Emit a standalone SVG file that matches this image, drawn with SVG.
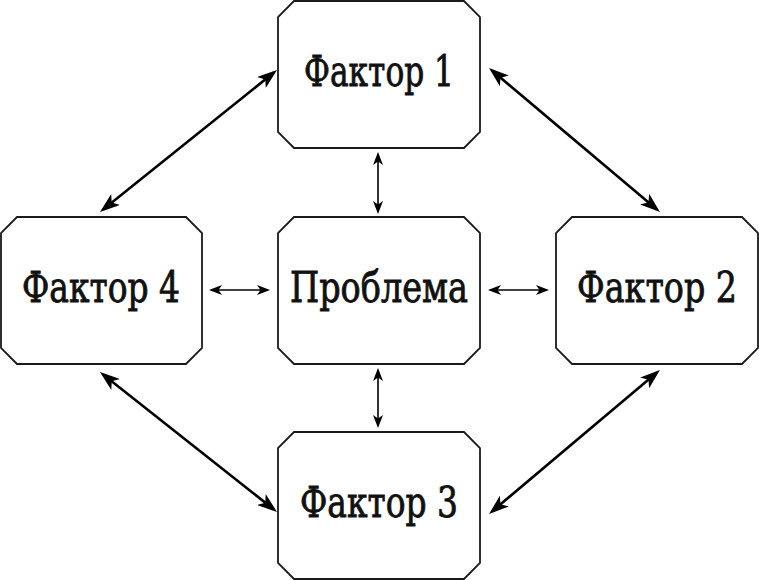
<svg xmlns="http://www.w3.org/2000/svg" width="759" height="580" viewBox="0 0 759 580">
<style>
.box{fill:#fff;stroke:#1a1a1a;stroke-width:1.8}
.lbl{font-family:"DejaVu Serif Condensed","DejaVu Serif",serif;font-size:43px;fill:#111;stroke:#111;stroke-width:0.8;text-anchor:middle}
.big{stroke:#000;stroke-width:2.6;fill:none;marker-start:url(#hb);marker-end:url(#hb)}
.sm{stroke:#000;stroke-width:1.6;fill:none;marker-start:url(#hs);marker-end:url(#hs)}
</style>
<defs>
<marker id="hb" viewBox="0 0 20 14" refX="16" refY="7" markerWidth="20" markerHeight="14" markerUnits="userSpaceOnUse" orient="auto-start-reverse"><path d="M0,0 L20,7 L0,14 L5,7 z" fill="#000"/></marker>
<marker id="hs" viewBox="0 0 13 10" refX="11" refY="5" markerWidth="13" markerHeight="10" markerUnits="userSpaceOnUse" orient="auto-start-reverse"><path d="M0,0 L13,5 L0,10 L3.5,5 z" fill="#000"/></marker>
</defs>
<g id="connectors">
<line class="big" x1="273.9" y1="72.5" x2="103.1" y2="209.5"/>
<line class="big" x1="492.1" y1="70.6" x2="656.9" y2="209.4"/>
<line class="big" x1="103.1" y1="374.5" x2="273.9" y2="509.5"/>
<line class="big" x1="492.1" y1="511.4" x2="656.9" y2="372.6"/>
<line class="sm" x1="378" y1="154" x2="378" y2="212"/>
<line class="sm" x1="378" y1="370" x2="378" y2="426"/>
<line class="sm" x1="211" y1="290" x2="268" y2="290"/>
<line class="sm" x1="490" y1="290" x2="547" y2="290"/>
</g>
<g id="factor1">
<path class="box" d="M294,1 H464 L480,17 V132 L464,148 H294 L278,132 V17 Z"/>
<text class="lbl" x="379" y="86" textLength="150" lengthAdjust="spacingAndGlyphs">Фактор 1</text>
</g>
<g id="factor4">
<path class="box" d="M17,217 H186 L202,233 V348 L186,364 H17 L1,348 V233 Z"/>
<text class="lbl" x="101" y="302" textLength="158" lengthAdjust="spacingAndGlyphs">Фактор 4</text>
</g>
<g id="problem">
<path class="box" d="M294,217 H464 L480,233 V348 L464,364 H294 L278,348 V233 Z"/>
<text class="lbl" x="379" y="302" textLength="178" lengthAdjust="spacingAndGlyphs">Проблема</text>
</g>
<g id="factor2">
<path class="box" d="M572,217 H742 L758,233 V348 L742,364 H572 L556,348 V233 Z"/>
<text class="lbl" x="657" y="302" textLength="160" lengthAdjust="spacingAndGlyphs">Фактор 2</text>
</g>
<g id="factor3">
<path class="box" d="M294,432 H464 L480,448 V563 L464,579 H294 L278,563 V448 Z"/>
<text class="lbl" x="379" y="517" textLength="158" lengthAdjust="spacingAndGlyphs">Фактор 3</text>
</g>
</svg>
